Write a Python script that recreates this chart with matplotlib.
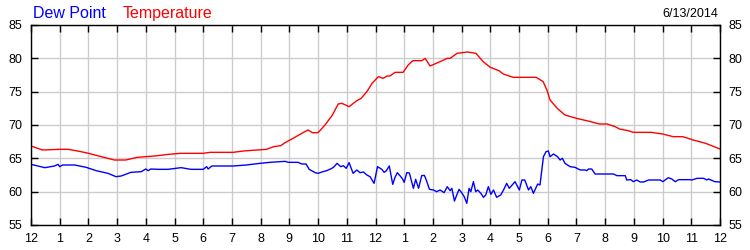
import matplotlib
matplotlib.use("Agg")
import matplotlib.pyplot as plt

plt.rcParams['font.family'] = ['Liberation Sans', 'DejaVu Sans']

# Hours since midnight and readings (deg F)
temp_hours = [0, 0.4, 1.0, 1.3, 1.74, 2.0, 2.9, 3.3, 3.7, 4.3, 4.8, 5.2, 6.0, 6.24, 7.04, 7.4,
              8.2, 8.45, 8.7, 8.85, 9.13, 9.37, 9.65, 9.8, 10.0, 10.24, 10.5, 10.7, 10.83,
              11.08, 11.35, 11.5, 11.7, 11.88, 12.1, 12.27, 12.4, 12.5, 12.68, 12.96, 13.14,
              13.3, 13.62, 13.73, 13.9, 14.25, 14.5, 14.6, 14.84, 15.2, 15.5, 15.75, 16.0,
              16.3, 16.45, 16.8, 17.6, 17.84, 17.97, 18.08, 18.33, 18.6, 19.0, 19.5, 19.8,
              20.07, 20.35, 20.5, 20.8, 20.98, 21.6, 22.0, 22.37, 22.7, 23.07, 23.5, 24.0]
temp_values = [66.85, 66.25, 66.35, 66.35, 66.0, 65.75, 64.75, 64.75, 65.15, 65.35, 65.6, 65.75,
               65.75, 65.9, 65.9, 66.1, 66.35, 66.75, 66.9, 67.35, 68.0, 68.6, 69.25, 68.85,
               68.85, 70.0, 71.5, 73.15, 73.25, 72.75, 73.65, 74.0, 75.0, 76.25, 77.25, 77.0,
               77.35, 77.35, 77.9, 77.9, 79.0, 79.65, 79.65, 80.0, 78.85, 79.5, 80.0, 80.0,
               80.75, 80.95, 80.75, 79.5, 78.65, 78.15, 77.65, 77.15, 77.15, 76.5, 75.25,
               73.75, 72.5, 71.5, 71.0, 70.5, 70.15, 70.15, 69.75, 69.4, 69.15, 68.9, 68.9,
               68.65, 68.25, 68.25, 67.75, 67.25, 66.4]

dew_hours = [0, 0.48, 0.82, 0.94, 1.0, 1.1, 1.52, 1.92, 2.27, 2.68, 2.96, 3.14, 3.48, 3.84,
             4.0, 4.08, 4.17, 4.43, 4.77, 5.23, 5.57, 6.0, 6.12, 6.17, 6.3, 7.04, 7.5, 7.98,
             8.33, 8.85, 8.96, 9.3, 9.43, 9.58, 9.69, 9.9, 10.0, 10.17, 10.3, 10.48, 10.56,
             10.66, 10.79, 10.88, 10.98, 11.08, 11.22, 11.35, 11.46, 11.58, 11.7, 11.81,
             11.95, 12.07, 12.22, 12.3, 12.37, 12.48, 12.6, 12.68, 12.76, 12.88, 12.95, 13.0,
             13.09, 13.18, 13.32, 13.4, 13.5, 13.61, 13.7, 13.76, 13.88, 14.02, 14.13, 14.25,
             14.39, 14.5, 14.6, 14.66, 14.75, 14.83, 14.91, 15.0, 15.09, 15.18, 15.26, 15.32,
             15.41, 15.49, 15.56, 15.67, 15.76, 15.84, 15.93, 16.02, 16.11, 16.22, 16.36,
             16.46, 16.57, 16.66, 16.86, 17.01, 17.1, 17.2, 17.33, 17.41, 17.5, 17.65, 17.73,
             17.85, 17.94, 18.02, 18.08, 18.2, 18.34, 18.43, 18.51, 18.6, 18.78, 18.95, 19.13,
             19.3, 19.36, 19.42, 19.53, 19.65, 20.29, 20.41, 20.7, 20.75, 20.89, 20.98, 21.1,
             21.22, 21.34, 21.51, 21.92, 22.01, 22.09, 22.2, 22.32, 22.44, 22.56, 22.96,
             23.02, 23.2, 23.43, 23.54, 23.6, 23.82, 24.0]
dew_values = [64.1, 63.6, 63.85, 64.1, 63.75, 64.0, 64.0, 63.65, 63.15, 62.75, 62.25, 62.35,
              62.9, 63.0, 63.4, 63.15, 63.4, 63.35, 63.35, 63.6, 63.35, 63.35, 63.75, 63.4,
              63.85, 63.85, 64.0, 64.25, 64.4, 64.55, 64.4, 64.4, 64.15, 64.15, 63.35, 62.85,
              62.75, 63.0, 63.15, 63.5, 63.75, 64.25, 63.75, 63.9, 63.5, 64.35, 62.75, 63.25,
              62.85, 62.95, 62.5, 62.25, 61.25, 63.75, 63.35, 62.9, 63.1, 63.85, 61.1, 62.15,
              62.85, 62.25, 61.85, 61.4, 62.85, 62.8, 60.5, 61.85, 60.5, 62.4, 62.45, 61.85,
              60.35, 60.25, 60.0, 60.25, 59.85, 60.75, 60.15, 60.5, 58.6, 59.5, 60.35, 59.85,
              59.25, 58.25, 60.5, 60.0, 61.5, 60.0, 60.25, 59.75, 59.15, 59.5, 60.75, 59.6,
              60.25, 59.15, 59.5, 60.25, 61.25, 60.5, 61.5, 60.25, 61.75, 61.75, 60.25, 60.75,
              59.75, 61.15, 61.0, 65.25, 66.0, 66.1, 65.25, 65.65, 65.25, 64.75, 65.0, 64.25,
              63.75, 63.65, 63.25, 63.25, 63.15, 63.4, 63.4, 62.65, 62.65, 62.4, 62.4, 61.75,
              61.8, 61.5, 61.75, 61.45, 61.45, 61.75, 61.75, 61.5, 61.75, 62.1, 61.9, 61.5,
              61.8, 61.8, 61.75, 62.0, 62.0, 61.75, 61.9, 61.5, 61.45]

hour_labels = ['12', '1', '2', '3', '4', '5', '6', '7', '8', '9', '10', '11',
               '12', '1', '2', '3', '4', '5', '6', '7', '8', '9', '10', '11', '12']
date_text = '6/13/2014'

fig = plt.figure(figsize=(7.5, 2.5), dpi=100)
ax = fig.add_axes([31 / 750, 25 / 250, 689 / 750, 200 / 250])

ax.plot(temp_hours, temp_values, color='#ff0000', linewidth=1.0)
ax.plot(dew_hours, dew_values, color='#0000ff', linewidth=1.0)

ax.set_xlim(0, 24)
ax.set_ylim(55, 85)
ax.set_xticks(range(25))
ax.set_xticklabels(hour_labels)
ax.set_yticks(range(55, 86, 5))

ax.grid(True, color='#cccccc', linewidth=1.0)
ax.set_axisbelow(True)
ax.tick_params(direction='in', length=5, width=1, top=True, right=True,
               labelright=True, labelsize=9, pad=6, colors='black')
for s in ax.spines.values():
    s.set_linewidth(1.0)

fig.text(33 / 750, 1 - 18 / 250, 'Dew Point', color='#0000ff', fontsize=11.5, ha='left', va='baseline')
fig.text(123 / 750, 1 - 18 / 250, 'Temperature', color='#ff0000', fontsize=11.5, ha='left', va='baseline')
fig.text(718 / 750, 1 - 17 / 250, date_text, color='black', fontsize=9, ha='right', va='baseline')

fig.savefig('out.png', dpi=100)
